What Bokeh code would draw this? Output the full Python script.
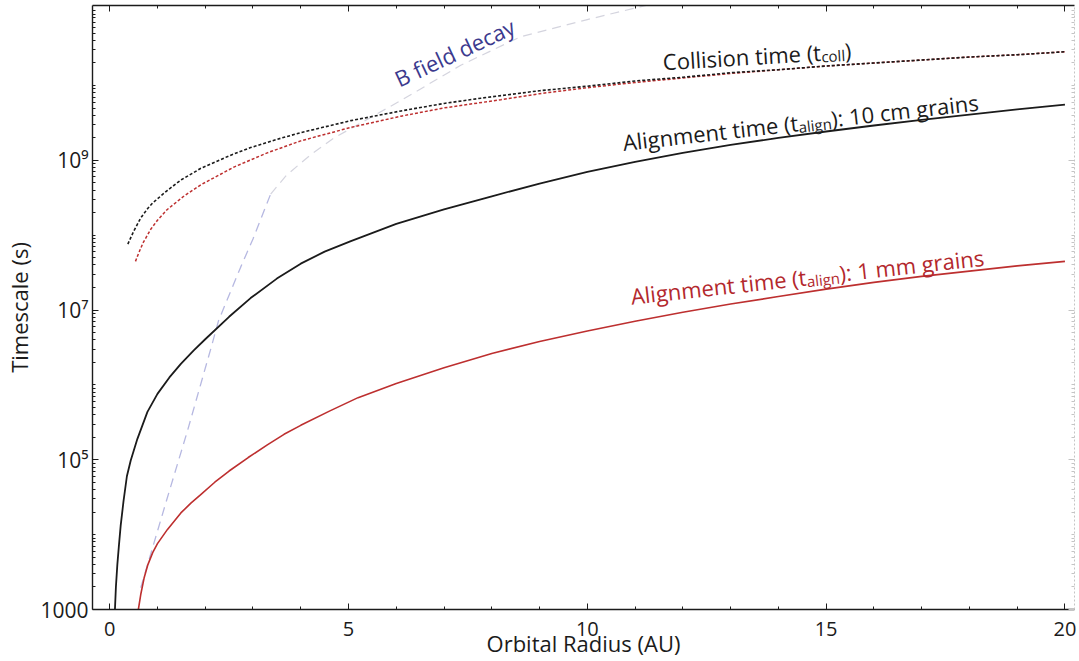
import math
from bokeh.plotting import figure
from bokeh.models import (Range1d, SingleIntervalTicker, FixedTicker, LinearAxis,
                          LogAxis, Label, CustomJSTickFormatter)
from bokeh.embed import file_html
from bokeh.resources import INLINE

# ---------------- data (times given as log10 of seconds) ----------------
# Collision time t_coll (black dashed)
coll_r = [0.38, 0.45, 0.5, 0.65, 0.8, 0.9, 1.21, 1.5, 1.9, 2.5, 2.95, 3.5, 4.0, 5.05,
          6.1, 7.0, 7.77, 9.0, 10.0, 11.0, 12.0, 13.0, 14.0, 15.0, 16.0, 17.0, 18.0,
          19.0, 20.0]
coll_log_t = [7.88, 7.98, 8.05, 8.23, 8.36, 8.43, 8.60, 8.74, 8.89, 9.06, 9.17, 9.28,
              9.37, 9.53, 9.66, 9.76, 9.83, 9.93, 9.99, 10.06, 10.11, 10.17, 10.21,
              10.26, 10.30, 10.34, 10.38, 10.41, 10.45]

# Collision time, second case (red dashed)
coll2_r = [0.54, 0.6, 0.7, 0.86, 1.0, 1.2, 1.55, 1.9, 2.6, 3.3, 4.0, 5.05, 6.1, 7.0,
           8.19, 9.0, 10.0, 11.0, 12.0, 13.0, 14.0, 15.0, 16.0, 17.0, 18.0, 19.0, 20.0]
coll2_log_t = [7.65, 7.75, 7.90, 8.08, 8.20, 8.34, 8.52, 8.67, 8.91, 9.10, 9.26, 9.44,
               9.59, 9.70, 9.81, 9.89, 9.97, 10.04, 10.10, 10.16, 10.21, 10.26, 10.30,
               10.34, 10.38, 10.41, 10.45]

# Alignment time, 10 cm grains (black solid)
al10_r = [0.11, 0.13, 0.16, 0.19, 0.23, 0.29, 0.36, 0.44, 0.58, 0.79, 1.0, 1.25, 1.49,
          1.76, 2.0, 2.5, 2.95, 3.5, 4.0, 4.5, 5.05, 6.0, 7.0, 8.0, 9.0, 10.0, 11.0,
          12.0, 13.0, 14.0, 15.0, 16.0, 17.0, 18.0, 19.0, 20.0]
al10_log_t = [3.0, 3.3, 3.6, 3.83, 4.12, 4.45, 4.78, 4.99, 5.28, 5.64, 5.88, 6.10, 6.28,
              6.46, 6.61, 6.91, 7.16, 7.42, 7.62, 7.78, 7.92, 8.15, 8.345, 8.52, 8.69,
              8.845, 8.98, 9.10, 9.205, 9.30, 9.385, 9.465, 9.54, 9.61, 9.68, 9.745]

# Alignment time, 1 mm grains (red solid)
al1_r = [0.6, 0.65, 0.72, 0.8, 0.9, 1.0, 1.21, 1.49, 1.7, 1.9, 2.2, 2.5, 2.9, 3.3, 3.65,
         4.0, 4.6, 5.2, 6.0, 7.0, 8.0, 9.0, 10.0, 11.0, 12.0, 13.0, 14.0, 15.0, 16.0,
         17.0, 18.0, 19.0, 20.0]
al1_log_t = [3.0, 3.2, 3.42, 3.6, 3.76, 3.88, 4.07, 4.29, 4.42, 4.53, 4.70, 4.85, 5.03,
             5.20, 5.34, 5.46, 5.65, 5.83, 6.02, 6.23, 6.42, 6.58, 6.72, 6.85, 6.97,
             7.08, 7.18, 7.28, 7.37, 7.45, 7.52, 7.59, 7.65]

# B field decay: steep visible part, then faint part
bf_low_r = [0.65, 0.9, 1.21, 1.63, 2.12, 2.28, 2.74, 3.0, 3.37]
bf_low_log_t = [3.29, 3.83, 4.5, 5.39, 6.49, 6.86, 7.57, 7.95, 8.55]
bf_high_r = [3.37, 3.7, 4.2, 4.7, 5.26, 6.1, 7.35, 8.6, 10.0, 11.1, 12.5]
bf_high_log_t = [8.55, 8.80, 9.07, 9.30, 9.50, 9.80, 10.27, 10.65, 10.88, 11.05, 11.25]

x_major_interval = 5
y_tick_values = [1e3, 1e5, 1e7, 1e9]
y_tick_labels = ["1000", "10\u2075", "10\u2077", "10\u2079"]
y_minor_values = [k * 10.0 ** e for e in range(3, 11) for k in range(1, 10)
                  if not (k == 1 and e in (3, 5, 7, 9))] + [1e11]

def secs(logs):
    return [10.0 ** v for v in logs]

FONT = "Open Sans"
INK = "#1b1b1b"
RED = "#bd2f2f"
RED_TXT = "#b3282d"
BLUE_TXT = "#3c3a8e"

# ---------------- figure ----------------
p = figure(width=1079, height=661, x_range=Range1d(-0.36, 20.2),
           y_range=Range1d(1000, 1.17e11), y_axis_type="log",
           output_backend="svg", toolbar_location=None,
           min_border_left=92, min_border_right=5, min_border_top=5,
           min_border_bottom=52, outline_line_color=None,
           background_fill_color="white", border_fill_color="white")
p.xgrid.visible = False
p.ygrid.visible = False

yfmt = CustomJSTickFormatter(args=dict(vals=y_tick_values, labs=y_tick_labels), code="""
for (let i = 0; i < vals.length; i++) {
  if (Math.abs(Math.log10(tick) - Math.log10(vals[i])) < 1e-6) return labs[i];
}
return '';
""")
blank = CustomJSTickFormatter(code="return '';")

def style_axis(ax, color=INK, labels=True):
    ax.axis_line_color = color
    ax.axis_line_width = 1.4
    ax.major_tick_line_color = color
    ax.minor_tick_line_color = color
    ax.major_tick_in = 6
    ax.major_tick_out = 0
    ax.minor_tick_in = 3
    ax.minor_tick_out = 0
    ax.major_tick_line_width = 1
    ax.minor_tick_line_width = 1
    if labels:
        ax.major_label_text_font = FONT
        ax.major_label_text_font_size = "21px"
        ax.major_label_text_color = INK
        ax.axis_label_text_font = FONT
        ax.axis_label_text_font_size = "22px"
        ax.axis_label_text_font_style = "normal"
        ax.axis_label_text_color = INK
    else:
        ax.formatter = blank
        ax.major_label_text_font_size = "1px"
        ax.major_label_standoff = 0

bx = p.xaxis[0]
bx.ticker = SingleIntervalTicker(interval=x_major_interval, num_minor_ticks=5)
style_axis(bx)
bx.major_label_text_font_size = "20px"
bx.axis_label = "Orbital Radius (AU)"
bx.major_label_standoff = 12
bx.axis_label_standoff = -11

ly = p.yaxis[0]
ly.ticker = FixedTicker(ticks=y_tick_values, minor_ticks=y_minor_values)
ly.formatter = yfmt
style_axis(ly)
ly.axis_label = "Timescale (s)"
ly.major_label_standoff = 4
ly.axis_label_standoff = 3

tx = LinearAxis(ticker=SingleIntervalTicker(interval=x_major_interval, num_minor_ticks=5))
style_axis(tx, labels=False)
p.add_layout(tx, "above")

ry = LogAxis(ticker=FixedTicker(ticks=y_tick_values, minor_ticks=y_minor_values))
style_axis(ry, color="#c4c4c4", labels=False)
ry.axis_line_dash = "2 2"
ry.axis_line_width = 1
p.add_layout(ry, "right")

# ---------------- curves ----------------
p.line(bf_high_r, secs(bf_high_log_t), line_color="#c9c9d6", line_width=1.2,
       line_dash="9 6", line_alpha=0.8)
p.line(bf_low_r, secs(bf_low_log_t), line_color="#aeb0de", line_width=1.3,
       line_dash="9 6", line_alpha=0.9)
p.line(coll2_r, secs(coll2_log_t), line_color=RED, line_width=1.5, line_dash="3 2")
p.line(coll_r, secs(coll_log_t), line_color=INK, line_width=1.6, line_dash="3 2")
p.line(al10_r, secs(al10_log_t), line_color=INK, line_width=1.8)
p.line(al1_r, secs(al1_log_t), line_color=RED, line_width=1.6)

# ---------------- rotated labels with subscripts ----------------
W = {' ': 532, '(': 604, ')': 604, ':': 545, '0': 1171, '1': 1171, 'A': 1296,
     'B': 1300, 'C': 1292, 'a': 1139, 'c': 975, 'd': 1255, 'e': 1149, 'f': 694,
     'g': 1122, 'i': 518, 'l': 518, 'm': 1905, 'n': 1257, 'o': 1237, 'r': 836,
     's': 977, 't': 723, 'y': 1032}

def text_w(s, size):
    return sum(W.get(ch, 1100) for ch in s) / 2048.0 * size

def rich_label(x, y, pieces, angle_deg, color, size):
    a = math.radians(angle_deg)
    along = 0.0
    for txt, sub in pieces:
        fs = size * 0.68 if sub else size
        drop = size * 0.22 if sub else 0.0
        xo = along * math.cos(a) + drop * math.sin(a)
        yo = along * math.sin(a) - drop * math.cos(a)
        p.add_layout(Label(x=x, y=y, text=txt, angle=a, x_offset=round(xo, 2),
                           y_offset=round(yo, 2), text_font=FONT,
                           text_font_size=f"{round(fs)}px", text_color=color,
                           text_align="left", text_baseline="alphabetic"))
        along += text_w(txt, fs)

rich_label(11.58, 2.1e10, [("Collision time (t", False), ("coll", True), (")", False)],
           3.5, INK, 22)
rich_label(10.74, 1.75e9, [("Alignment time (t", False), ("align", True),
                           ("): 10 cm grains", False)], 6.5, INK, 22)
rich_label(10.91, 1.55e7, [("Alignment time (t", False), ("align", True),
                           ("): 1 mm grains", False)], 6.3, RED_TXT, 22)
rich_label(5.99, 1.2e10, [("B field decay", False)], 25, BLUE_TXT, 22)

open("out.html", "w").write(file_html(p, INLINE))
